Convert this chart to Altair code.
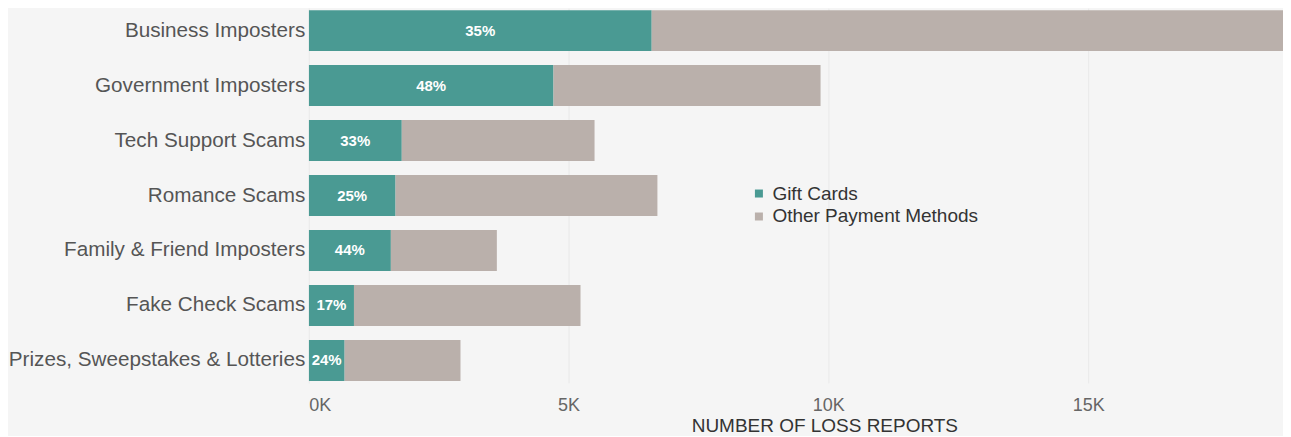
import altair as alt
import pandas as pd

categories = [
    "Business Imposters",
    "Government Imposters",
    "Tech Support Scams",
    "Romance Scams",
    "Family & Friend Imposters",
    "Fake Check Scams",
    "Prizes, Sweepstakes & Lotteries",
]
gift_cards = [6600, 4710, 1790, 1670, 1580, 870, 690]
other_methods = [12300, 5140, 3710, 5040, 2040, 4360, 2230]
pct_labels = ["35%", "48%", "33%", "25%", "44%", "17%", "24%"]
series = ["Gift Cards", "Other Payment Methods"]
colors = ["#4a9a93", "#bab0ab"]
tick_values = [0, 5000, 10000, 15000]

rows = []
for c, g, o in zip(categories, gift_cards, other_methods):
    rows.append({"category": c, "method": series[0], "reports": g, "ord": 0})
    rows.append({"category": c, "method": series[1], "reports": o, "ord": 1})
df = pd.DataFrame(rows)

lab_df = pd.DataFrame({"category": categories, "gift": gift_cards, "label": pct_labels})

FONT = "Liberation Sans"

y_enc = alt.Y(
    "category:N",
    sort=categories,
    title=None,
    scale=alt.Scale(paddingInner=0.2545, paddingOuter=0.036),
    axis=alt.Axis(
        ticks=False, domain=False, grid=False,
        labelFontSize=20.7, labelColor="#555555", labelFont=FONT,
        labelPadding=4, labelLimit=400, minExtent=300, maxExtent=300,
    ),
)

bars = alt.Chart(df).mark_bar(clip=True).encode(
    x=alt.X(
        "reports:Q",
        stack="zero",
        scale=alt.Scale(domain=[0, 18750], nice=False),
        title="NUMBER OF LOSS REPORTS",
        axis=alt.Axis(
            values=tick_values,
            labelExpr="datum.value / 1000 + 'K'",
            ticks=False, domain=False, grid=True,
            gridColor="#e9e9e9", gridWidth=1,
            labelFontSize=18, labelColor="#666666", labelFont=FONT,
            labelPadding=14, labelFlush=True,
            titleFontSize=19, titleColor="#333333", titleFont=FONT,
            titleFontWeight="normal", titleX=516, titleY=34,
            titleBaseline="top", titleAlign="center",
        ),
    ),
    y=y_enc,
    color=alt.Color(
        "method:N",
        scale=alt.Scale(domain=series, range=colors),
        legend=alt.Legend(
            title=None, orient="none", legendX=441, legendY=176,
            symbolType="square", symbolSize=64, symbolStrokeWidth=0,
            labelFontSize=19, labelColor="#333333", labelFont=FONT,
            labelLimit=400, rowPadding=3, labelOffset=4,
        ),
    ),
    order=alt.Order("ord:Q"),
)

texts = alt.Chart(lab_df).transform_calculate(
    mid="datum.gift / 2"
).mark_text(
    color="white", fontWeight="bold", fontSize=15, font=FONT, baseline="middle"
).encode(
    x=alt.X("mid:Q"),
    y=alt.Y("category:N", sort=categories),
    text="label:N",
)

chart = alt.layer(bars, texts).properties(
    width=975, height=375, background="#f5f5f5", padding=0
).configure_view(stroke=None)

chart.save("out.html", embed_options={"renderer": "svg", "actions": False})
